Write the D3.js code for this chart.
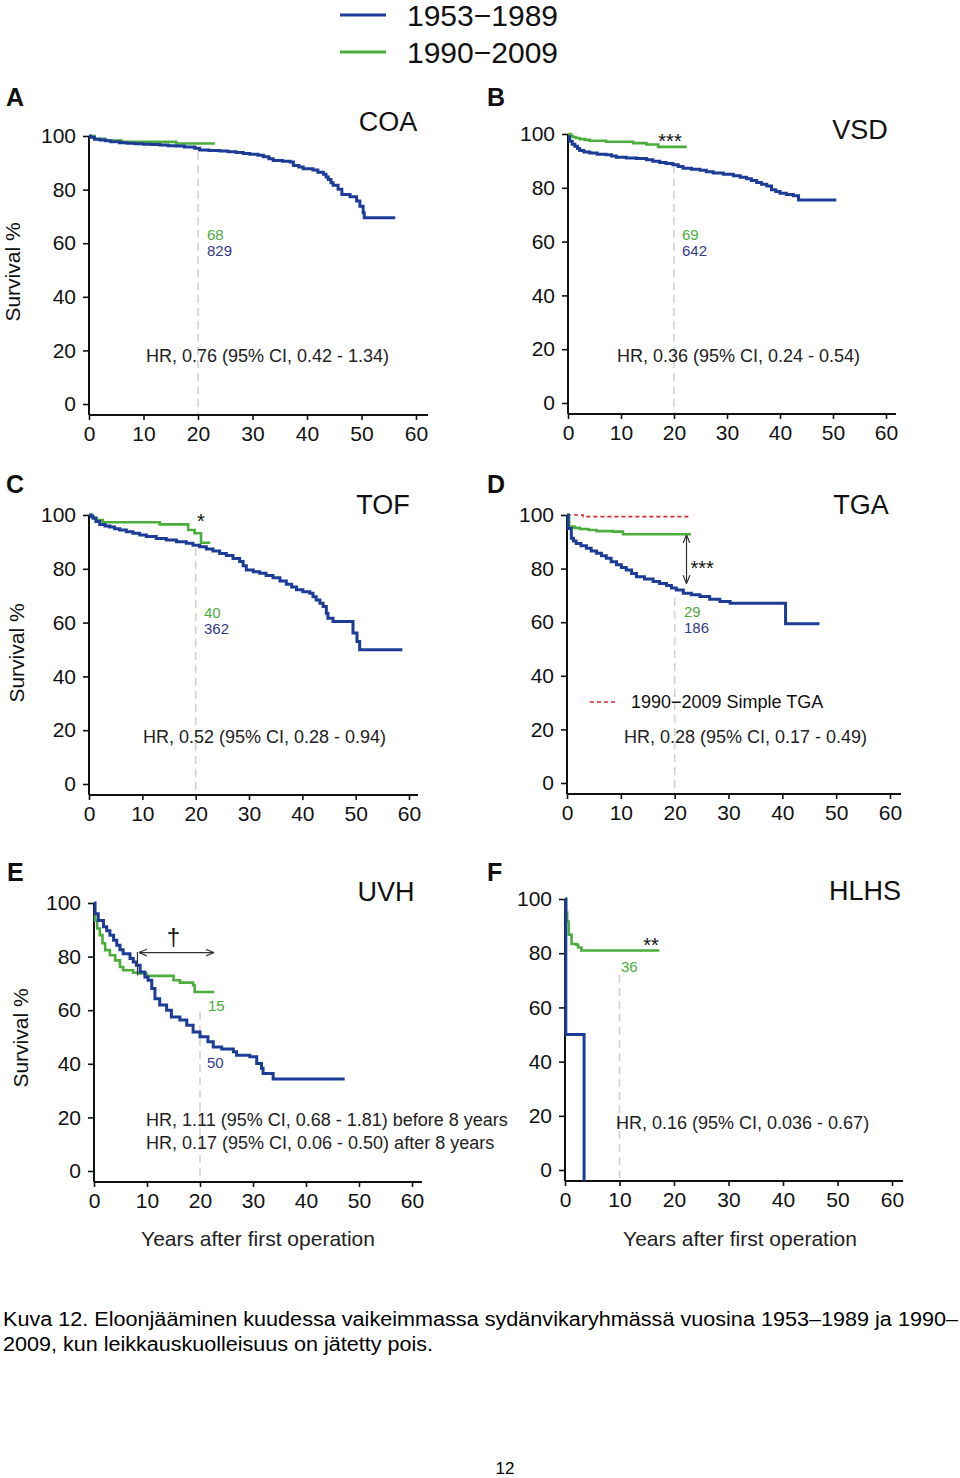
<!DOCTYPE html>
<html><head><meta charset="utf-8">
<script src="https://cdn.jsdelivr.net/npm/d3@7"></script>
<style>
body{margin:0;background:#fff;}
svg text{font-family:"Liberation Sans",Arial,Helvetica,sans-serif;}
</style></head>
<body>
<svg id="chart" width="960" height="1478"></svg>
<script>
// ---------------- DATA ----------------
const seriesNames = ["1953\u22121989", "1990\u22122009"];
const xTicks = [0, 10, 20, 30, 40, 50, 60];
const yTicks = [0, 20, 40, 60, 80, 100];

// [years, survival %]
const coaOld = [[0,100],[0.3,99.5],[1,98.8],[2,98.5],[3,98.2],[4,97.9],[5.6,97.5],[7,97.3],[8.5,97.1],[10,96.9],[11.5,96.8],[13,96.6],[14.5,96.4],[16,96.3],[17.5,95.9],[19.4,95.4],[20.3,94.8],[22,94.6],[24,94.4],[25.5,94.1],[27,93.8],[28.3,93.5],[29.5,93.2],[31,92.8],[32,92.3],[33,91.5],[33.8,90.9],[35.5,90.6],[36.9,90.3],[37.5,89],[38.5,88.4],[39.3,87.8],[41.1,87.3],[42,86.5],[43,85.7],[43.5,84.7],[43.9,83.8],[44.4,82.6],[44.8,81.6],[45.7,80.1],[46.4,78.2],[47.9,77.3],[49.1,75.7],[49.7,73.8],[50.3,71.4],[50.5,69.5],[56.2,69.5]];
const coaNew = [[0,100],[1,99],[3,98.3],[6,97.8],[16,97.2],[23.1,97.2]];

const vsdOld = [[0,99],[0.3,97.3],[0.8,96.2],[1.3,95.4],[1.8,94.6],[2.2,93.9],[3,93.3],[4.1,92.9],[5.5,92.5],[7.2,92.3],[8.2,91.8],[9.1,91.4],[11,91.1],[12.9,90.9],[14.8,90.4],[16,89.9],[17.3,89.4],[18.5,89],[19.8,88.6],[20.8,87.9],[21.7,87.3],[23.3,86.9],[24.9,86.5],[26.1,86],[27.4,85.5],[29.3,85],[31.2,84.5],[32.5,83.9],[33.7,83.4],[34.6,82.7],[35.6,82],[36.5,81.3],[37.5,80.7],[38.4,79.3],[39.2,78.6],[40,78],[41.2,77.5],[42.5,77],[43.5,75.5],[50.6,75.5]];
const vsdNew = [[0,100],[0.5,99.3],[0.9,98.9],[1.5,98.5],[2.2,98.1],[3.2,97.8],[4.1,97.5],[7.2,97.1],[12.3,96.6],[14.8,96.1],[17,95.2],[22.4,95.2]];

const tofOld = [[0,100],[0.4,99.4],[0.75,98.8],[1.3,97.6],[2,96.5],[3,95.9],[3.9,95.5],[4.8,94.9],[5.75,94.4],[7,93.8],[8.25,93.2],[9.5,92.6],[10.75,92],[12.6,91.3],[14.5,90.7],[16.4,90.1],[18.25,89.5],[19.5,88.8],[20.75,88.2],[22,87.4],[23.25,86.6],[24.5,85.7],[25.75,84.9],[27,83.8],[28.25,82.7],[28.9,81.1],[29.5,79.6],[30.8,78.9],[32,78.3],[33.2,77.5],[34.5,76.7],[35.8,75.5],[37,74.3],[38,73.2],[38.9,72.2],[40.1,71.5],[41.4,70.9],[42,69.6],[42.6,68.4],[43.3,67.2],[43.9,66],[44.5,63.5],[44.8,61.6],[45.75,60.4],[49.5,56.1],[50.25,53],[50.75,49.9],[58.75,49.9]];
const tofNew = [[0,100],[0.7,99],[1.4,98.1],[2.6,97.3],[13.25,96.5],[18.6,94.4],[19.8,93.2],[21,89.7],[22.75,89.7]];

const tgaOld = [[0,100],[0.2,95],[0.8,91.3],[1.2,90.3],[1.7,89.4],[2.6,88.5],[3.6,87.6],[4.5,86.6],[5.5,85.7],[6.4,84.8],[7.3,83.9],[8.2,82.6],[9.2,81.4],[10.1,80.4],[11,79.5],[12,78.2],[12.9,77],[14.4,76.1],[16,75.2],[17.2,74.4],[18.5,73.7],[19.4,72.8],[20.3,72],[21.6,70.8],[23.1,70.2],[24.7,69.6],[26.5,68.6],[28.4,67.7],[30.3,67.1],[40.6,59.4],[46.9,59.4]];
const tgaNew = [[0,100],[0.4,95.7],[1.4,95.2],[2.4,94.8],[4,94.4],[5.5,94],[8.6,93.8],[10.4,92.8],[23,92.8]];
const tgaSimple = [[0,100],[3,99.4],[23,99.4]];

const uvhOld = [[0,100],[0.2,96],[0.8,93.5],[1.8,91.1],[2.4,89.6],[3,88],[3.7,86.1],[4.3,84.2],[4.9,82.6],[5.5,81.1],[6.8,79.3],[7.4,78],[8,76.8],[8.7,74.3],[9.6,72.4],[10.2,71.2],[10.9,68.1],[11.5,64.3],[12.4,61.9],[13.7,60],[14.6,57.5],[16.2,56.3],[17.5,54.4],[18.7,51.9],[20,50.1],[21.5,48.2],[22.5,46.3],[24.1,45.5],[26.3,44.5],[26.9,43.2],[29.4,42.6],[30.7,40.1],[31.6,38.3],[31.9,36.4],[33.8,34.3],[47.3,34.3]];
const uvhNew = [[0,95],[0.2,93.5],[0.6,90.5],[1.1,88],[1.6,85],[2.1,82.4],[3,80.5],[4,78.6],[4.9,76.1],[5.5,74.9],[7.4,74],[8.4,73.7],[9.9,72.8],[15,71.2],[16.2,70.3],[18.7,69.3],[19,66.8],[22.7,66.8]];

const hlhsOld = [[0,100],[0.15,50],[3.5,0]];
const hlhsNew = [[0,100],[0.2,95],[0.4,91.7],[0.7,86.8],[1.2,83.4],[2.1,83.1],[2.4,82.1],[3,81],[17.3,81]];

const atRisk = {A:["68","829"], B:["69","642"], C:["40","362"], D:["29","186"], E:["15","50"], F:["36"]};
const hrTexts = {
  A:["HR, 0.76 (95% CI, 0.42 - 1.34)"],
  B:["HR, 0.36 (95% CI, 0.24 - 0.54)"],
  C:["HR, 0.52 (95% CI, 0.28 - 0.94)"],
  D:["HR, 0.28 (95% CI, 0.17 - 0.49)"],
  E:["HR, 1.11 (95% CI, 0.68 - 1.81) before 8 years","HR, 0.17 (95% CI, 0.06 - 0.50) after 8 years"],
  F:["HR, 0.16 (95% CI, 0.036 - 0.67)"]
};

// ---------------- LAYOUT ----------------
const navy = "#1d3c97", green = "#4cad3d", navyText = "#353b8c", greenText = "#4cad3d", red = "#d8262c";
const panels = [
 {key:"A", title:"COA",  x0:89,  x60:416, xEnd:428, y100:136, y0:404,  axisY:415, old:coaOld, nw:coaNew,
  titlePos:[388,121], letter:[6,106], ylab:[12,272], risk:[207,235], hr:[146,356], dash:[20,152]},
 {key:"B", title:"VSD",  x0:568, x60:886, xEnd:896, y100:134, y0:403,  axisY:414, old:vsdOld, nw:vsdNew,
  titlePos:[860,129], letter:[487,106], risk:[682,235], hr:[617,356], dash:[20,165], stars:["***",670,138]},
 {key:"C", title:"TOF",  x0:89,  x60:409, xEnd:418, y100:515, y0:784,  axisY:795, old:tofOld, nw:tofNew,
  titlePos:[383,504], letter:[6,493], ylab:[16,653], risk:[204,613], hr:[143,737], dash:[20,548], stars:["*",201,518]},
 {key:"D", title:"TGA",  x0:567, x60:890, xEnd:901, y100:515, y0:783,  axisY:794, old:tgaOld, nw:tgaNew,
  titlePos:[861,504], letter:[487,493], risk:[684,612], hr:[624,737], dash:[20,598]},
 {key:"E", title:"UVH",  x0:94,  x60:412, xEnd:422, y100:903, y0:1171, axisY:1182, old:uvhOld, nw:uvhNew,
  titlePos:[386,891], letter:[7,881], ylab:[20,1038], hr:[146,1120], dash:[20,1012], xlab:[258,1238]},
 {key:"F", title:"HLHS", x0:565, x60:892, xEnd:903, y100:899, y0:1170, axisY:1181, old:hlhsOld, nw:hlhsNew,
  titlePos:[865,890], letter:[487,881], hr:[616,1123], dash:[10,975], xlab:[740,1238], stars:["**",651,942]}
];

const svg = d3.select("#chart");
const ink = "#111";
const defs = svg.append("defs");
defs.append("marker").attr("id","ah").attr("viewBox","0 0 10 10").attr("refX",9).attr("refY",5)
  .attr("markerWidth",7).attr("markerHeight",7).attr("orient","auto-start-reverse")
  .append("path").attr("d","M0,1 L10,5 L0,9").attr("fill","none").attr("stroke","#333").attr("stroke-width",1.4);

// Top legend
const leg = svg.append("g");
[[navy,15],[green,52]].forEach(([c,y],i)=>{
  leg.append("line").attr("x1",340).attr("x2",386).attr("y1",y).attr("y2",y).attr("stroke",c).attr("stroke-width",3);
  leg.append("text").attr("x",407).attr("y",y).attr("dy","0.36em").attr("font-size",30).attr("fill",ink).text(seriesNames[i]);
});

panels.forEach(p=>{
  const g = svg.append("g");
  const x = d3.scaleLinear([0,60],[p.x0,p.x60]);
  const y = d3.scaleLinear([0,100],[p.y0,p.y100]);

  // dashed reference line
  g.append("line").attr("x1",x(p.dash[0])).attr("x2",x(p.dash[0])).attr("y1",p.dash[1]).attr("y2",p.axisY)
    .attr("stroke","#cfcfcf").attr("stroke-width",1.5).attr("stroke-dasharray","8,5");

  // axes
  const ya = g.append("g").attr("transform",`translate(${p.x0},0)`)
    .call(d3.axisLeft(y).tickValues(yTicks).tickSize(6).tickPadding(7));
  ya.select(".domain").remove();
  const xa = g.append("g").attr("transform",`translate(0,${p.axisY})`)
    .call(d3.axisBottom(x).tickValues(xTicks).tickSize(5).tickPadding(6));
  xa.select(".domain").remove();
  [ya,xa].forEach(a=>{
    a.selectAll("line").attr("stroke",ink).attr("stroke-width",1.6);
    a.selectAll("text").attr("font-size",21).attr("fill",ink).attr("font-family","Liberation Sans, Arial, sans-serif");
  });
  g.append("line").attr("x1",p.x0).attr("x2",p.x0).attr("y1",y(100)).attr("y2",p.axisY).attr("stroke",ink).attr("stroke-width",2);
  g.append("line").attr("x1",p.x0).attr("x2",p.xEnd).attr("y1",p.axisY).attr("y2",p.axisY).attr("stroke",ink).attr("stroke-width",2);

  // curves
  const line = d3.line().x(d=>x(d[0])).y(d=>d[1] <= 0 ? p.axisY : y(d[1])).curve(d3.curveStepAfter);
  if (p.key==="D") {
    g.append("path").datum(tgaSimple).attr("d",line).attr("fill","none").attr("stroke",red)
      .attr("stroke-width",1.6).attr("stroke-dasharray","4,3");
  }
  g.append("path").datum(p.nw).attr("d",line).attr("fill","none").attr("stroke",green).attr("stroke-width",2.6);
  g.append("path").datum(p.old).attr("d",line).attr("fill","none").attr("stroke",navy).attr("stroke-width",3);

  // labels
  g.append("text").attr("x",p.letter[0]).attr("y",p.letter[1]).attr("font-size",25).attr("font-weight","bold").attr("fill",ink).text(p.key);
  g.append("text").attr("x",p.titlePos[0]).attr("y",p.titlePos[1]).attr("dy","0.36em").attr("text-anchor","middle")
    .attr("font-size",27).attr("fill",ink).text(p.title);
  if (p.ylab) g.append("text").attr("transform",`translate(${p.ylab[0]},${p.ylab[1]}) rotate(-90)`).attr("dy","0.36em")
    .attr("text-anchor","middle").attr("font-size",21).attr("fill",ink).text("Survival %");
  if (p.xlab) g.append("text").attr("x",p.xlab[0]).attr("y",p.xlab[1]).attr("dy","0.36em").attr("text-anchor","middle")
    .attr("font-size",21).attr("fill","#222").text("Years after first operation");
  if (p.stars) g.append("text").attr("x",p.stars[1]).attr("y",p.stars[2]).attr("dy","0.5em").attr("text-anchor","middle")
    .attr("font-size",20).attr("fill",ink).text(p.stars[0]);
  hrTexts[p.key].forEach((t,i)=>{
    g.append("text").attr("x",p.hr[0]).attr("y",p.hr[1]+i*23).attr("dy","0.36em").attr("font-size",18).attr("fill","#222").text(t);
  });
  if (p.risk) {
    atRisk[p.key].forEach((t,i)=>{
      g.append("text").attr("x",p.risk[0]).attr("y",p.risk[1]+i*16).attr("dy","0.36em").attr("font-size",15)
        .attr("fill",i===0?greenText:navyText).text(t);
    });
  }

  if (p.key==="D") {
    g.append("line").attr("x1",x(22.2)).attr("x2",x(22.2)).attr("y1",y(92.3)).attr("y2",y(74.7))
      .attr("stroke","#333").attr("stroke-width",1.2).attr("marker-start","url(#ah)").attr("marker-end","url(#ah)");
    g.append("text").attr("x",x(22.2)+4).attr("y",y(81.3)).attr("dy","0.5em").attr("font-size",20).attr("fill",ink).text("***");
    g.append("line").attr("x1",590).attr("x2",617).attr("y1",702).attr("y2",702).attr("stroke",red).attr("stroke-width",1.6).attr("stroke-dasharray","4,3");
    g.append("text").attr("x",631).attr("y",702).attr("dy","0.36em").attr("font-size",18).attr("fill",ink).text("1990\u22122009 Simple TGA");
  }
  if (p.key==="E") {
    g.append("line").attr("x1",x(8.2)).attr("x2",x(8.2)).attr("y1",y(81.7)).attr("y2",y(73)).attr("stroke","#333").attr("stroke-width",1.2);
    g.append("line").attr("x1",x(8.2)+2).attr("x2",x(22.5)).attr("y1",y(81.5)).attr("y2",y(81.5))
      .attr("stroke","#333").attr("stroke-width",1.2).attr("marker-start","url(#ah)").attr("marker-end","url(#ah)");
    g.append("text").attr("x",x(15)).attr("y",y(87.5)).attr("dy","0.36em").attr("text-anchor","middle").attr("font-size",24).attr("fill",ink).text("\u2020");
    g.append("text").attr("x",208).attr("y",1006).attr("dy","0.36em").attr("font-size",15).attr("fill",greenText).text(atRisk.E[0]);
    g.append("text").attr("x",207).attr("y",1063).attr("dy","0.36em").attr("font-size",15).attr("fill",navyText).text(atRisk.E[1]);
  }
  if (p.key==="F") {
    g.append("text").attr("x",621).attr("y",967).attr("dy","0.36em").attr("font-size",15).attr("fill",greenText).text(atRisk.F[0]);
  }
});

// Caption
const capFont = "'Liberation Sans Narrow','Arial Narrow','Liberation Sans',sans-serif";
svg.append("text").attr("x",3).attr("y",1326).attr("font-size",20).attr("fill","#000")
  .attr("textLength",955).attr("lengthAdjust","spacingAndGlyphs").style("font-family",capFont)
  .text("Kuva 12. Eloonjääminen kuudessa vaikeimmassa sydänvikaryhmässä vuosina 1953–1989 ja 1990–");
svg.append("text").attr("x",3).attr("y",1351).attr("font-size",20).attr("fill","#000")
  .attr("textLength",430).attr("lengthAdjust","spacingAndGlyphs").style("font-family",capFont)
  .text("2009, kun leikkauskuolleisuus on jätetty pois.");
svg.append("text").attr("x",505).attr("y",1474).attr("text-anchor","middle").attr("font-size",17).attr("fill","#000").text("12");
</script>
</body></html>
